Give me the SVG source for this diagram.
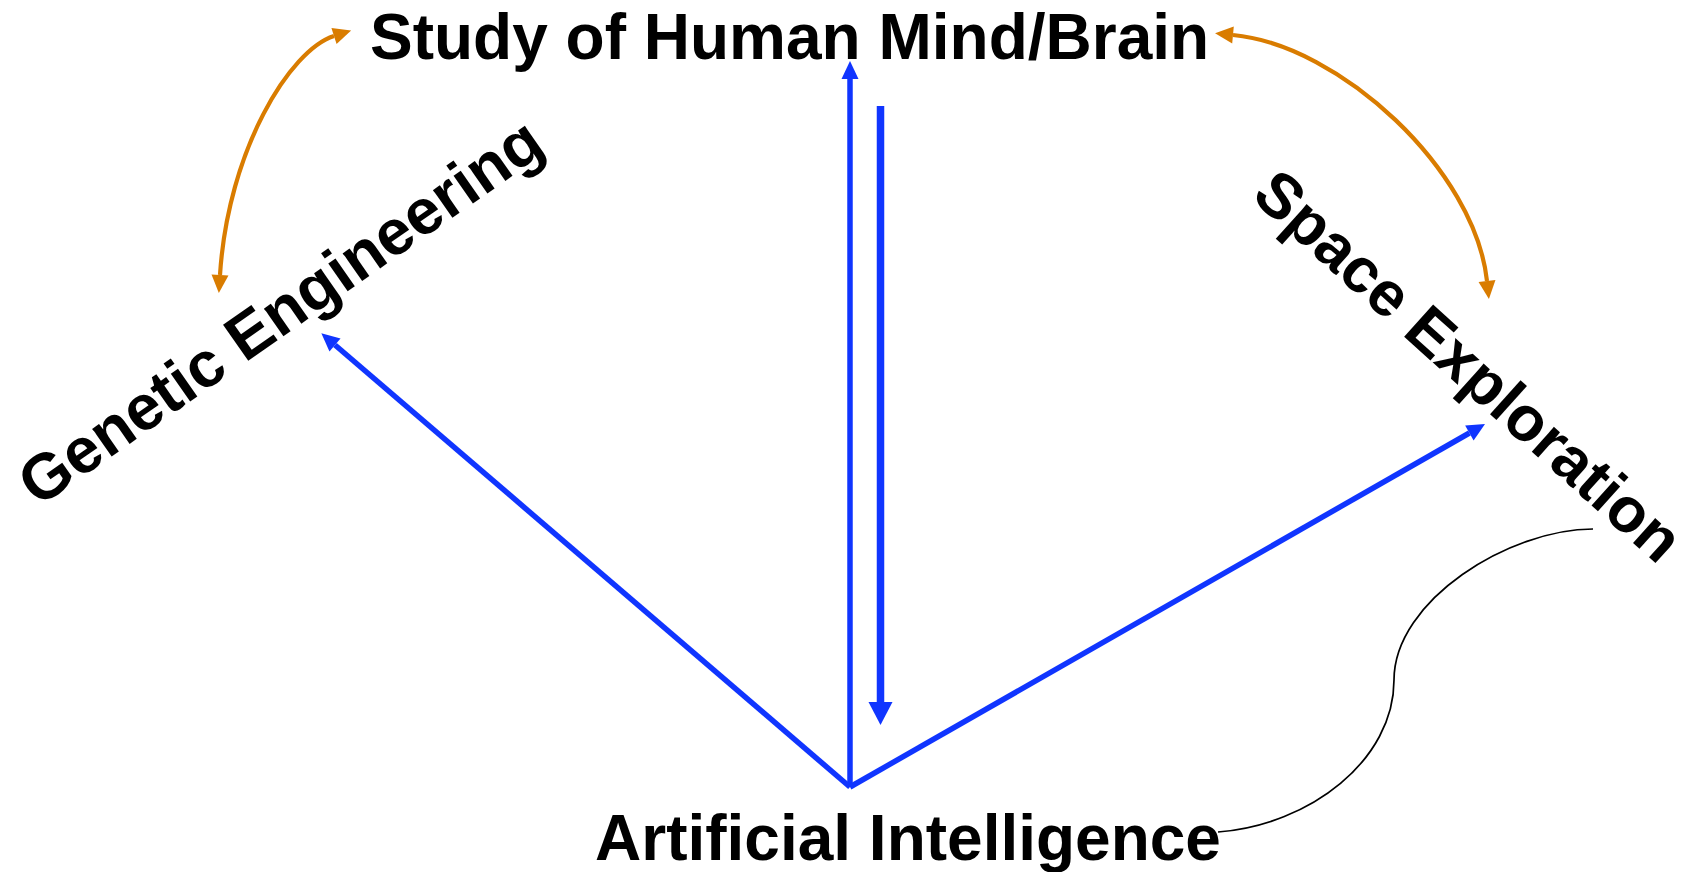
<svg xmlns="http://www.w3.org/2000/svg" width="1698" height="872" viewBox="0 0 1698 872">
<style>
.lbl{font-family:"Liberation Sans",Arial,sans-serif;font-weight:bold;font-size:64px;fill:#000}
.blue{stroke:#1035FF;fill:none}
.orange{stroke:#D97C00;stroke-width:4.2;fill:none}
.thin{stroke:#000;stroke-width:1.7;fill:none}
</style>
<defs>
<marker id="ah-blue" markerUnits="userSpaceOnUse" markerWidth="20" markerHeight="20" refX="0" refY="8.5" orient="auto" overflow="visible">
<path d="M0,0 L18,8.5 L0,17 z" fill="#1035FF"/>
</marker>
<marker id="ah-blue-big" markerUnits="userSpaceOnUse" markerWidth="26" markerHeight="26" refX="0" refY="12" orient="auto" overflow="visible">
<path d="M0,0 L23,12 L0,24 z" fill="#1035FF"/>
</marker>
<marker id="ah-orange" markerUnits="userSpaceOnUse" markerWidth="20" markerHeight="20" refX="0" refY="8.5" orient="auto-start-reverse" overflow="visible">
<path d="M0,0 L18,8.5 L0,17 z" fill="#D97C00"/>
</marker>
</defs>
<rect width="1698" height="872" fill="#fff"/>
<g id="connectors">
<path class="orange" d="M220,275 C228,150 290,50 334,36" marker-start="url(#ah-orange)" marker-end="url(#ah-orange)"/>
<path class="orange" d="M1233,35 C1340,45 1475,170 1487,281" marker-start="url(#ah-orange)" marker-end="url(#ah-orange)"/>
<line class="blue" stroke-width="5.5" x1="850" y1="787" x2="850" y2="79" marker-end="url(#ah-blue)"/>
<line class="blue" stroke-width="7.5" x1="880.5" y1="106" x2="880.5" y2="702" marker-end="url(#ah-blue-big)"/>
<line class="blue" stroke-width="5.5" x1="850" y1="787" x2="335" y2="345" marker-end="url(#ah-blue)"/>
<line class="blue" stroke-width="5.5" x1="850" y1="787" x2="1469.4" y2="433" marker-end="url(#ah-blue)"/>
<path class="thin" d="M1593,529 C1510,529 1394,600 1394,680 C1394,760 1310,825 1218,832"/>
</g>
<g id="node-brain"><text class="lbl" x="370" y="59">Study of Human Mind/Brain</text></g>
<g id="node-ai"><text class="lbl" x="595" y="860">Artificial Intelligence</text></g>
<g id="node-genetic"><text class="lbl" transform="translate(38,508) rotate(-35)">Genetic Engineering</text></g>
<g id="node-space"><text class="lbl" style="font-size:63px" transform="translate(1250,198) rotate(42)">Space Exploration</text></g>
</svg>
